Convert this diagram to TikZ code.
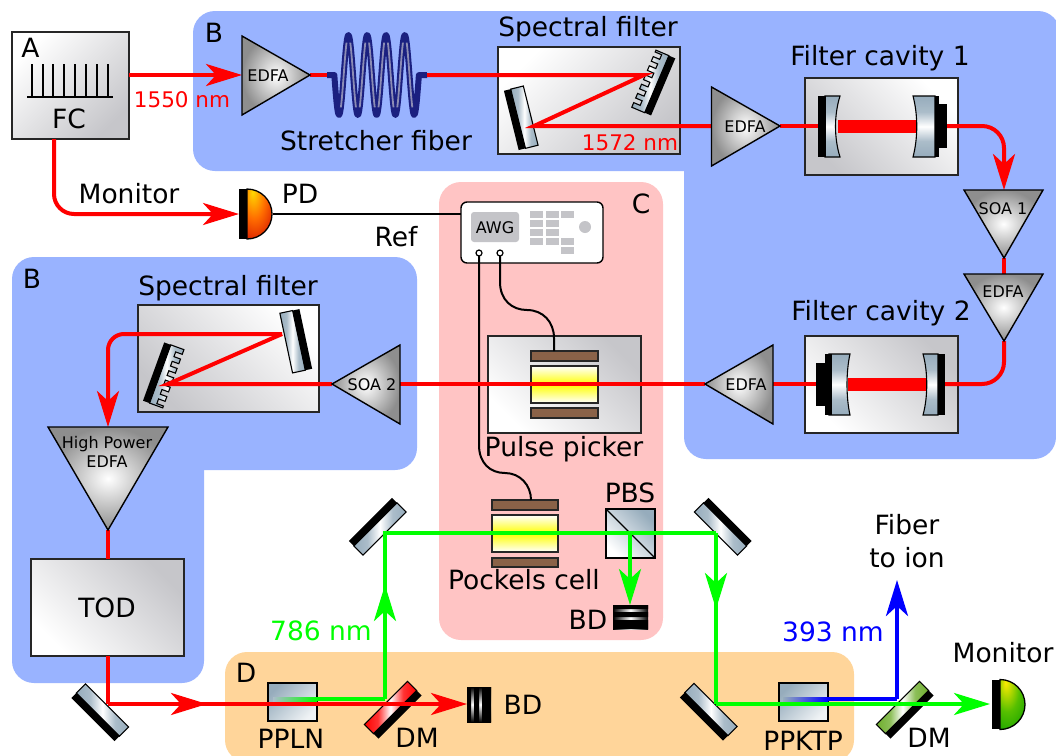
\documentclass[tikz,border=0pt]{standalone}
\usepackage{fontspec}
\setmainfont{DejaVu Sans}
\usetikzlibrary{arrows.meta,fit,calc}
\definecolor{bgblue}{HTML}{99B3FF}
\definecolor{bgpink}{HTML}{FFC4C4}
\definecolor{bgorange}{HTML}{FFD59A}
\definecolor{boxgrey}{HTML}{C6C6CA}
\definecolor{steel}{HTML}{96ACBC}
\definecolor{triedge}{HTML}{8E8E8E}
\definecolor{brownel}{HTML}{8A6248}
\definecolor{awggrey}{HTML}{C4C4C8}
\definecolor{dmgreen}{HTML}{6FAE2E}
\definecolor{coildark}{HTML}{1B2080}
\definecolor{coillight}{HTML}{8C8CB4}
\pgfdeclareradialshading{domered}{\pgfpoint{-14bp}{22bp}}{color(0bp)=(yellow!70!orange);color(22bp)=(orange!85!red);color(50bp)=(red!80!black);color(100bp)=(red!70!black)}
\pgfdeclareradialshading{domegreen}{\pgfpoint{-14bp}{22bp}}{color(0bp)=(yellow!85!orange);color(24bp)=(yellow!45!green!75!black);color(52bp)=(green!60!black);color(100bp)=(green!55!black)}
\pgfdeclarehorizontalshading{mirrorsteel}{100bp}{color(0bp)=(steel);color(25bp)=(steel);color(38bp)=(steel!80!white);color(50bp)=(white);color(62bp)=(steel!80!white);color(75bp)=(steel);color(100bp)=(steel)}
\pgfdeclarehorizontalshading{mirrorred}{100bp}{color(0bp)=(red);color(25bp)=(red);color(38bp)=(red!80!white);color(50bp)=(white);color(62bp)=(red!80!white);color(75bp)=(red);color(100bp)=(red)}
\pgfdeclarehorizontalshading{mirrordmgreen}{100bp}{color(0bp)=(dmgreen);color(25bp)=(dmgreen);color(38bp)=(dmgreen!80!white);color(50bp)=(white);color(62bp)=(dmgreen!80!white);color(75bp)=(dmgreen);color(100bp)=(dmgreen)}
\tikzset{
  bgarea/.style={rounded corners=22pt,draw=none},
  obox/.style={draw=black!85,line width=1.6pt,inner sep=0pt,outer sep=0pt,top color=white,bottom color=boxgrey},
  tri/.style={draw=black,line width=1.4pt,line join=miter,inner color=white,outer color=triedge},
  beam/.style={line width=4pt,red},
  gbeam/.style={line width=4pt,green},
  bbeam/.style={line width=4pt,blue},
  fatbeam/.style={line width=13pt,red},
  wire/.style={line width=2pt,black},
  tip/.style={-{Stealth[length=36pt,width=22pt,inset=10pt]}},
  mirrorbody/.style={draw=black,line width=1.1pt,shading=mirror#1},
  mirrorbody/.default=steel,
  lab/.style={inner sep=0pt,anchor=base,font=\fontsize{26.5}{28}\selectfont},
  redlab/.style={lab,font=\fontsize{21.5}{24}\selectfont,red},
  small/.style={lab,font=\fontsize{16}{17}\selectfont},
  elec/.style={draw=black!85,line width=1.3pt,fill=brownel},
  pcrystal/.style={draw=black!85,line width=1.3pt,top color=white,bottom color=white,middle color=yellow},
  crystalbox/.style={draw=black,line width=1.3pt,inner sep=0pt,outer sep=0pt,top color=white!85!steel,bottom color=steel,shading angle=-135},
}
\newcommand{\obj}[6]{\node[obox,shading angle=#6,fit={(#2,#3) (#4,#5)}] (#1) {};}
\newcommand{\lbl}[5][lab]{\node[#1] (#2) at (#3,#4) {#5};}
% mirror: centre x, y, rotation, colour
\newcommand{\mirrorat}[4]{\begin{scope}[shift={(#1,#2)},rotate=#3]
  \shade[mirrorbody=#4] (-30.5,-10) rectangle (30.5,3);
  \fill[black] (-30.5,3) rectangle (30.5,10);
\end{scope}}
\newcommand{\gratingat}[3]{\begin{scope}[shift={(#1,#2)},rotate=#3]
  \shade[mirrorbody] (-31,3) -- (-31,-11)
    \foreach \i [evaluate=\i as \a using -31+\i*10] in {0,...,5} {-- ({\a+5},-11) -- ({\a+5},-4) -- ({\a+10},-4) -- ({\a+10},-11)}
    -- (31,-11) -- (31,3) -- cycle;
  \fill[black] (-31,3) rectangle (31,10);
\end{scope}}
\begin{document}
\begin{tikzpicture}[x=1pt,y=-1pt]
\path[use as bounding box] (0,0) rectangle (1056,755);
\fill[white] (0,0) rectangle (1056,755);
% anchors of the amplifiers and detectors
\coordinate (e1in) at (242,75);   \coordinate (e1out) at (310,75);
\coordinate (e2in) at (711.5,126);\coordinate (e2out) at (780,126);
\coordinate (s1in) at (1004,190); \coordinate (s1out) at (1004,258);
\coordinate (e3in) at (1004,274); \coordinate (e3out) at (1004,341);
\coordinate (e4in) at (773,384);  \coordinate (e4out) at (705,384);
\coordinate (s2in) at (400,384);  \coordinate (s2out) at (332,384);
\coordinate (hpin) at (108,427);  \coordinate (hpout) at (108,530);
\coordinate (pd1)  at (239,214);  \coordinate (pd2) at (990,704);
% regions
\fill[bgblue,bgarea] (193,11) rectangle (1060,171);
\fill[bgblue,bgarea] (684,40) rectangle (1056,459);
\fill[bgblue,bgarea] (1000,11) rectangle (1056,100);
\fill[bgblue,bgarea] (12,257) rectangle (417,470);
\fill[bgblue,bgarea] (12,380) rectangle (204,683);
\fill[bgpink,bgarea] (439,182) rectangle (663,640);
\begin{scope}
\clip (0,0) rectangle (1056,755);
\fill[bgorange,bgarea] (225,652) rectangle (854,762);
\end{scope}
% instrument boxes
\obj{fc}{12}{32}{129}{139}{45}
\obj{sf1}{498}{47}{680}{154}{45}
\obj{fc1}{805}{78}{958}{175}{-45}
\obj{fc2}{805}{336}{958}{433}{135}
\obj{sf2}{138}{305}{319}{412}{-45}
\obj{pp}{488}{336}{641}{433}{135}
\obj{tod}{31}{559}{184}{656}{135}
% frequency comb
\draw[line width=1.4pt] (27,97) -- (113,97);
\foreach \x in {32,43,53,64,75,86,97,108} \draw[line width=1.4pt] (\x,64) -- (\x,97);
% AWG
\node[draw=black,line width=1.4pt,fill=white,rounded corners=6pt,inner sep=0pt,outer sep=0pt,fit={(461,202) (603,263)}] (awg) {};
\node[fill=awggrey,rounded corners=3pt,inner sep=0pt,fit={(471,212) (519,242)}] (awgscreen) {};
\foreach \x/\y in {530/211,546/211,561/211,530/220,546/220,530/229,546/229,530/238,546/238,561/238,561/247}
  \fill[awggrey] (\x,\y) rectangle +(13,7);
\fill[awggrey] (585,227) circle[radius=6pt];
% pulse picker and Pockels cell
\node[elec,inner sep=0pt,fit={(531,351) (598,361)}] (ppe1) {};
\node[elec,inner sep=0pt,fit={(531,408) (598,418)}] (ppe2) {};
\node[pcrystal,inner sep=0pt,fit={(531,366) (598,403)}] (ppc) {};
\node[elec,inner sep=0pt,fit={(492,500) (558,510)}] (pce1) {};
\node[elec,inner sep=0pt,fit={(492,558) (558,567)}] (pce2) {};
\node[pcrystal,inner sep=0pt,fit={(492,515) (558,552)}] (pcc) {};
% wires
\coordinate (port1) at (479,253); \coordinate (port2) at (500,253);
\draw[wire] (273,214) -- (awg.west |- 273,214);
\draw[wire] (port2) -- (500,282) .. controls (500,300) and (512,310) .. (527,310) .. controls (543,310) and (554,322) .. (554,338) -- (554,351);
\draw[wire] (port1) -- (479,445) .. controls (479,463) and (490,473) .. (505,473) .. controls (520,473) and (531,485) .. (531,500);
\foreach \p in {port1,port2} \draw[line width=1.2pt,fill=white] (\p) circle[radius=3pt];
% PBS
\node[draw=black,line width=1.3pt,inner sep=0pt,outer sep=0pt,top color=steel,bottom color=white,shading angle=-45,fit={(606,509) (655,558)}] (pbs) {};
\draw[line width=1.3pt] (pbs.north west) -- (pbs.south east);
% nonlinear crystals
\node[crystalbox,fit={(268,683) (317,721)}] (ppln) {};
\node[crystalbox,fit={(779,683) (828,721)}] (ppktp) {};
% mirrors
\mirrorat{521}{118}{-76}{steel}
\mirrorat{296}{341}{102}{steel}
\mirrorat{100}{712.5}{-45}{steel}
\mirrorat{377.5}{526.5}{-135}{steel}
\mirrorat{723}{526.5}{135}{steel}
\mirrorat{708.5}{712}{-45}{steel}
\mirrorat{393}{710}{45}{red}
\mirrorat{905}{710}{45}{dmgreen}
\gratingat{654}{83}{67}
\gratingat{163}{375}{-110}
% cavity mirrors
\shade[mirrorbody,shading angle=90] (825,96) -- (840,96) .. controls (834,115) and (834,138) .. (840,157) -- (825,157) -- cycle;
\fill (818,96) rectangle (826,157);
\shade[mirrorbody,shading angle=90] (913,96) -- (935,96) -- (935,157) -- (913,157) .. controls (918,138) and (918,115) .. (913,96) -- cycle;
\fill (935,96) rectangle (939,157);
\fill (935,104) rectangle (947,148);
\shade[mirrorbody,shading angle=90] (829,354) -- (850,354) .. controls (846,372) and (846,397) .. (850,415) -- (829,415) -- cycle;
\fill (816,363) rectangle (829,406);
\fill (825,354) rectangle (832,415);
\shade[mirrorbody,shading angle=90] (923,354) -- (938,354) -- (938,415) -- (923,415) .. controls (928,397) and (928,372) .. (923,354) -- cycle;
\fill (938,354) rectangle (945,415);
% beam dumps
\shade[top color=black,bottom color=black,middle color=white] (467,687) rectangle (491,722);
\fill (467,687) rectangle (471,722) (474,687) rectangle (479,722) (482,687) rectangle (491,722);
\shade[left color=black,right color=black,middle color=white] (613,605) rectangle (648,629);
\fill (613,605) rectangle (648,609) (613,612) rectangle (648,617) (613,620) rectangle (648,629);
% stretcher fibre
\coordinate (sfin) at (327,75); \coordinate (sfout) at (427,75);
\coordinate (coilin) at (334.3,75); \coordinate (coilout) at (419,75);
\draw[beam] (e1out) -- (sfin);
\draw[line width=6pt,color=coildark,line join=round] (sfin) -- (coilin) -- plot[domain=-0.25:4.25,samples=120] ({339+18.8*\x},{75+40*cos(\x*360)}) -- (sfout);
\foreach \k in {0,0.5,1,1.5,2,2.5,3,3.5}
  \draw[line width=1.8pt,color=coillight] plot[domain=\k+0.1:\k+0.4,samples=14] ({339+18.8*\x},{75+40*cos(\x*360)});
% beams
\draw[beam,tip] (fc.east |- e1in) -- (e1in);
\coordinate (g1) at (644,76); \coordinate (m1) at (534,126);
\draw[beam] (sfout) -- (g1 |- sfout) -- (m1) -- (e2in);
\draw[beam] (e2out) -- (818,126);
\draw[fatbeam] (838,126) -- (916,126);
\draw[beam,tip,rounded corners=22pt] (947,126) -- (s1in |- 947,126) -- (s1in);
\draw[beam] (s1out) -- (e3in);
\draw[beam,rounded corners=22pt] (e3out) -- (1004,384) -- (945,384);
\draw[fatbeam] (848,384) -- (926,384);
\draw[beam] (816,384) -- (e4in);
\draw[beam] (e4out) -- (s2in);
\coordinate (g2) at (168,384); \coordinate (m2) at (282,334);
\draw[beam] (s2out) -- (g2) -- (m2);
\draw[beam,tip,rounded corners=16pt] (m2) -- (hpin |- m2) -- (hpin);
\draw[beam] (hpout) -- (tod.north -| hpout);
\draw[beam,tip,rounded corners=20pt] (54,139) -- (54,214) -- (pd1);
\coordinate (m3) at (108,704);
\draw[beam] (tod.south -| m3) -- (m3);
\coordinate (midarrow) at (207,704);
\draw[beam,tip] (m3) -- (midarrow);
\coordinate (bd1) at (467,704);
\draw[beam,tip] ($(midarrow)+(-22,0)$) -- (bd1);
% 786 nm
\coordinate (dm1) at (385,699); \coordinate (gup) at (385,585); \coordinate (m4) at (385,533);
\coordinate (m5) at (716,533); \coordinate (gdown) at (716,609); \coordinate (m6) at (716,704);
\coordinate (pbsc) at (630,533); \coordinate (bd2) at (630,605);
\shade[left color=steel!80!white,right color=green] (273,697) rectangle (317,701);
\draw[gbeam] (ppln.east |- dm1) -- (dm1);
\draw[gbeam,tip] (dm1) -- (gup);
\draw[gbeam,line join=miter] ($(gup)+(0,22)$) -- (m4) -- (m5);
\draw[gbeam,tip] (m5) -- (gdown);
\draw[gbeam,tip] (pbsc) -- (bd2);
\draw[gbeam] ($(gdown)+(0,-22)$) -- (m6);
% 393 nm
\coordinate (dm2) at (897,699); \coordinate (fibre) at (897,580);
\shade[left color=steel,right color=blue] (783,697) rectangle (828,701);
\draw[bbeam] (ppktp.east |- dm2) -- (dm2);
\draw[bbeam,tip] (dm2) -- (fibre);
\draw[gbeam,tip] (m6) -- (pd2);
% amplifiers
\shade[tri] (242,36) -- (242,115) -- (e1out) -- cycle;
\shade[tri] (711.5,87) -- (711.5,166) -- (e2out) -- cycle;
\shade[tri] (964,190) -- (1043,190) -- (s1out) -- cycle;
\shade[tri] (964,274) -- (1043,274) -- (e3out) -- cycle;
\shade[tri] (773,345) -- (773,424) -- (e4out) -- cycle;
\shade[tri] (400,345) -- (400,424) -- (s2out) -- cycle;
\shade[tri] (48,427) -- (168,427) -- (hpout) -- cycle;
% detectors
\fill (239,189) rectangle (247,239);
\shade[shading=domered,draw=black,line width=1.3pt] (247,189) arc[start angle=90,end angle=-90,radius=25pt] -- cycle;
\fill (992,680) rectangle (1000,729);
\shade[shading=domegreen,draw=black,line width=1.3pt] (1000,679.5) arc[start angle=90,end angle=-90,radius=25pt] -- cycle;
% texts
\lbl{la}{30.5}{57.5}{A}
\lbl{lfc}{69}{128}{FC}
\lbl[redlab]{l1550}{182}{107}{1550 nm}
\lbl{lb1}{214}{42}{B}
\lbl{lstr}{376}{150}{Stretcher fiber}
\lbl{lmon1}{129}{203}{Monitor}
\lbl{lpd}{300}{203}{PD}
\lbl{lref}{396}{246}{Ref}
\lbl{lsf1}{588}{36}{Spectral filter}
\lbl[redlab]{l1572}{630}{150}{1572 nm}
\lbl{lfc1}{880}{65}{Filter cavity 1}
\lbl{lc}{641}{213}{C}
\lbl{lfc2}{881}{320}{Filter cavity 2}
\lbl{lb2}{32}{288}{B}
\lbl{lsf2}{228}{295}{Spectral filter}
\lbl{lpp}{564}{456}{Pulse picker}
\lbl{ltod}{107}{617}{TOD}
\lbl{lpc}{524}{589}{Pockels cell}
\lbl{lpbs}{630}{502}{PBS}
\lbl{lbd2}{588}{629}{BD}
\lbl[lab,green]{l786}{321}{640}{786 nm}
\lbl{ld}{246}{682}{D}
\lbl{lppln}{291}{748}{PPLN}
\lbl{ldm1}{417}{747}{DM}
\lbl{lbd1}{523}{714}{BD}
\lbl{lppktp}{803}{750}{PPKTP}
\lbl{ldm2}{929}{747}{DM}
\lbl[lab,blue]{l393}{833}{641}{393 nm}
\lbl{lmon2}{1003}{662}{Monitor}
\lbl{lfib1}{907}{534}{Fiber}
\lbl{lfib2}{907}{567}{to ion}
\lbl[small]{lawg}{495}{233}{AWG}
\lbl[small]{le1}{268}{81}{EDFA}
\lbl[small]{le2}{745}{132}{EDFA}
\lbl[small]{ls1}{1003}{214}{SOA 1}
\lbl[small]{le3}{1003}{297}{EDFA}
\lbl[small]{le4}{746}{390}{EDFA}
\lbl[small]{ls2}{372}{390}{SOA 2}
\lbl[small]{lhp1}{107}{448}{High Power}
\lbl[small]{lhp2}{107}{467}{EDFA}
\end{tikzpicture}
\end{document}
